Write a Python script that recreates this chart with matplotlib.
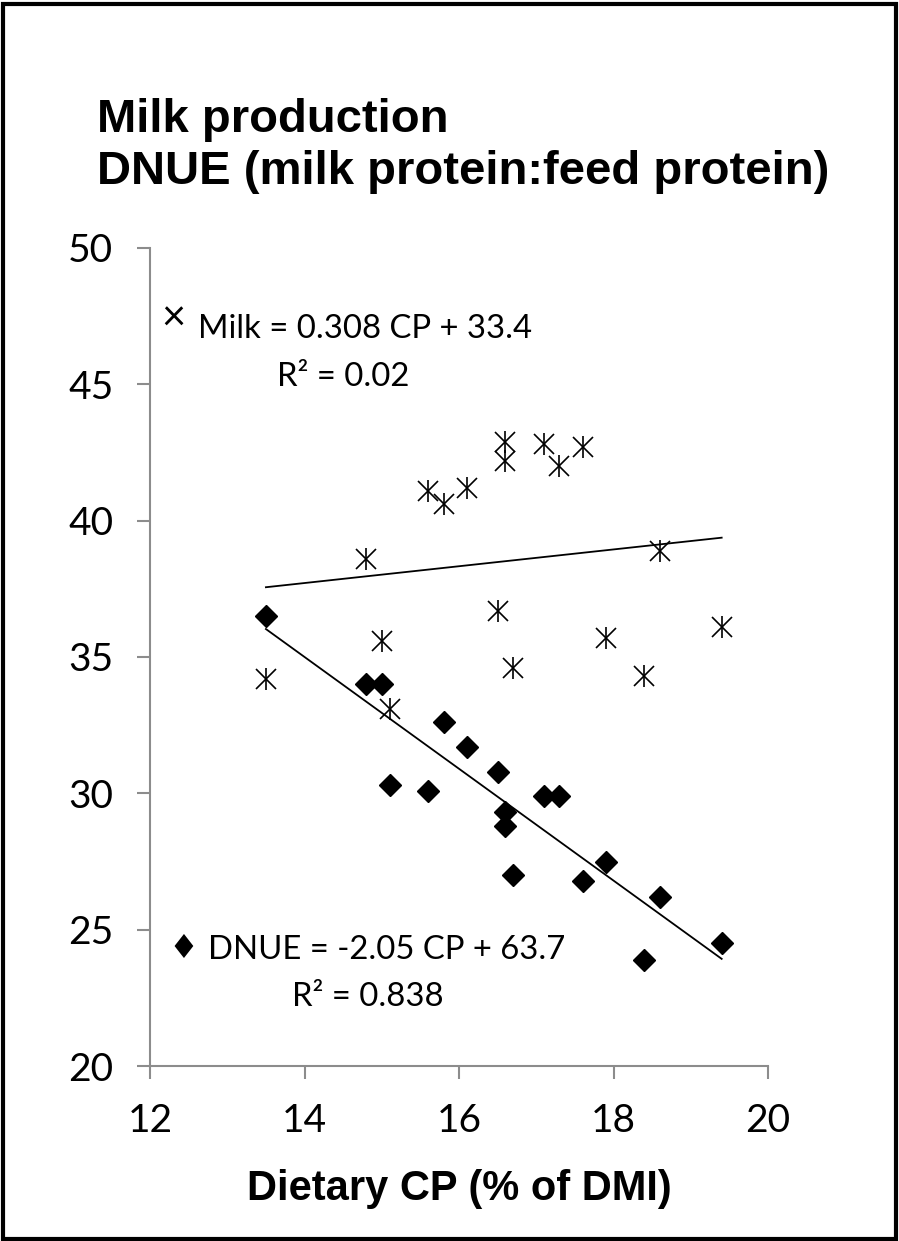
import matplotlib.pyplot as plt
from matplotlib.patches import Rectangle
import numpy as np

# data
cp = [13.5, 14.8, 15.0, 15.1, 15.6, 15.8, 16.1, 16.5, 16.6, 16.6,
      16.7, 17.1, 17.3, 17.6, 17.9, 18.4, 18.6, 19.4]
milk = [34.2, 38.6, 35.6, 33.1, 41.1, 40.6, 41.2, 36.7, 42.9, 42.2,
        34.6, 42.8, 42.0, 42.7, 35.7, 34.3, 38.9, 36.1]
dnue = [36.5, 34.0, 34.0, 30.3, 30.1, 32.6, 31.7, 30.8, 29.3, 28.8,
        27.0, 29.9, 29.9, 26.8, 27.5, 23.9, 26.2, 24.5]

# trendline coefficients from the chart labels
milk_fit = (0.308, 33.4)
dnue_fit = (-2.05, 63.7)

xticks = [12, 14, 16, 18, 20]
yticks = [20, 25, 30, 35, 40, 45, 50]

fig = plt.figure(figsize=(8.99, 12.41), dpi=100)
ax = fig.add_axes([0.1669, 0.141, 0.6874, 0.6592])

# milk: asterisk made of an x and a vertical bar
ax.plot(cp, milk, ls='none', marker='x', ms=15, mew=1.2, color='black')
ax.plot(cp, milk, ls='none', marker='|', ms=16, mew=1.2, color='black')
# dnue: filled diamonds
ax.plot(cp, dnue, ls='none', marker='D', ms=11, color='black')

xs = np.array([min(cp), max(cp)])
ax.plot(xs, milk_fit[0] * xs + milk_fit[1], color='black', lw=1.3)
ax.plot(xs, dnue_fit[0] * xs + dnue_fit[1], color='black', lw=1.3)

ax.set_xlim(12, 20)
ax.set_ylim(20, 50)
ax.set_xticks(xticks)
ax.set_yticks(yticks)
for s in ['top', 'right']:
    ax.spines[s].set_visible(False)
for s in ['left', 'bottom']:
    ax.spines[s].set_color('#8c8c8c')
    ax.spines[s].set_linewidth(1.5)
ax.tick_params(direction='out', length=9.5, width=1.5, color='#8c8c8c',
               labelsize=28, pad=17)
for lbl in ax.get_xticklabels() + ax.get_yticklabels():
    lbl.set_family('Lato')

ax.set_xlabel('Dietary CP (% of DMI)', fontsize=30, fontweight='bold',
              family='Liberation Sans', labelpad=22)

# trendline labels
ax.text(12.3, 47.4, '\u00d7', fontsize=30, family=['Lato', 'DejaVu Sans'],
        ha='center', va='center')
ax.text(12.62, 47.03, 'Milk = 0.308 CP + 33.4', fontsize=23.7, family='Lato',
        ha='left', va='center')
ax.text(14.5, 45.27, 'R\u00b2 = 0.02', fontsize=23.7, family='Lato',
        ha='center', va='center')
ax.text(12.43, 24.3, '\u2666', fontsize=24, family=['DejaVu Sans'],
        ha='center', va='center')
ax.text(12.75, 24.26, 'DNUE = -2.05 CP + 63.7', fontsize=23.7, family='Lato',
        ha='left', va='center')
ax.text(14.82, 22.53, 'R\u00b2 = 0.838', fontsize=23.7, family='Lato',
        ha='center', va='center')

# title
fig.text(97 / 899, 1 - 120 / 1241, 'Milk production', fontsize=34,
         fontweight='bold', family='Liberation Sans', va='center')
fig.text(97 / 899, 1 - 172 / 1241, 'DNUE (milk protein:feed protein)',
         fontsize=34, fontweight='bold', family='Liberation Sans', va='center')

# frame around the whole picture
fig.patches.append(Rectangle((0.003, 0.002), 0.994, 0.995, transform=fig.transFigure,
                             fill=False, edgecolor='black', linewidth=3))

fig.savefig('out.png', dpi=100)
